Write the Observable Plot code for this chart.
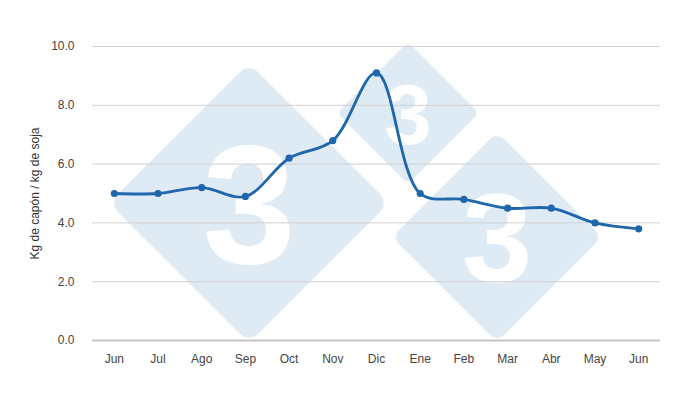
<!DOCTYPE html>
<html>
<head>
<meta charset="utf-8">
<script src="https://cdn.jsdelivr.net/npm/d3@7"></script>
<script src="https://cdn.jsdelivr.net/npm/@observablehq/plot@0.6"></script>
<style>
  html, body { margin: 0; padding: 0; background: #fff; }
  #chart { width: 700px; height: 400px; }
</style>
</head>
<body>
<div id="chart"></div>
<script>
// Month labels (x axis) and values (Kg de capón / kg de soja)
const months = ["Jun", "Jul", "Ago", "Sep", "Oct", "Nov", "Dic", "Ene", "Feb", "Mar", "Abr", "May", "Jun"];
const ratio = [5.0, 5.0, 5.2, 4.9, 6.2, 6.8, 9.1, 5.0, 4.8, 4.5, 4.5, 4.0, 3.8];
const yTicks = [0, 2, 4, 6, 8, 10];
const yLabel = "Kg de capón / kg de soja";

const data = months.map((m, i) => ({i, month: m, value: ratio[i]}));
const lineColor = "#1f66ad";

const svg = Plot.plot({
  width: 700,
  height: 400,
  marginLeft: 92,
  marginRight: 40,
  marginTop: 46,
  marginBottom: 60,
  style: {fontFamily: "'Liberation Sans', Arial, sans-serif", fontSize: "12px", background: "#fff"},
  x: {type: "point", domain: d3.range(months.length), padding: 0.5, round: false, label: null},
  y: {domain: [0, 10], label: null},
  marks: [
    Plot.gridY(yTicks, {stroke: "#d0d0d0", strokeOpacity: 1}),
    Plot.ruleY([0], {stroke: "#c4c4c4", strokeWidth: 2}),
    Plot.axisX({tickSize: 0, tickPadding: 14, tickFormat: i => months[i], fill: "#444", fontSize: 12}),
    Plot.axisY(yTicks, {tickSize: 0, tickPadding: 18, tickFormat: d => d.toFixed(1), fill: "#444", fontSize: 12,
      label: yLabel, labelAnchor: "center", labelArrow: "none", labelOffset: 62}),
    Plot.line(data, {x: "i", y: "value", stroke: lineColor, strokeWidth: 2.8, curve: "catmull-rom"}),
    Plot.dot(data, {x: "i", y: "value", r: 3.6, fill: lineColor, stroke: "none"})
  ]
});

// Decorative "3" watermark diamonds behind the chart (background decoration, not data)
const wm = [
  {cx: 249, cy: 203, h: 140},
  {cx: 408, cy: 113, h: 71},
  {cx: 497, cy: 237, h: 105}
];
const g = d3.select(svg).insert("g", ":first-child").attr("class", "watermark");
for (const w of wm) {
  const side = w.h * Math.SQRT2;
  const gg = g.append("g").attr("transform", `translate(${w.cx},${w.cy})`);
  gg.append("rect")
    .attr("x", -side / 2).attr("y", -side / 2)
    .attr("width", side).attr("height", side)
    .attr("rx", w.h * 0.09)
    .attr("transform", "rotate(45)")
    .attr("fill", "#dfebf4");
  gg.append("text")
    .attr("text-anchor", "middle")
    .attr("dy", "0.36em")
    .attr("font-family", "'Liberation Sans', Arial, sans-serif")
    .attr("font-weight", "bold")
    .attr("font-size", w.h * 1.2)
    .attr("fill", "#fff")
    .text("3");
}
// y-axis label colour
d3.select(svg).selectAll("[aria-label='y-axis label'] text, [aria-label='y-axis label']").attr("fill", "#333");

document.getElementById("chart").appendChild(svg);
</script>
</body>
</html>
